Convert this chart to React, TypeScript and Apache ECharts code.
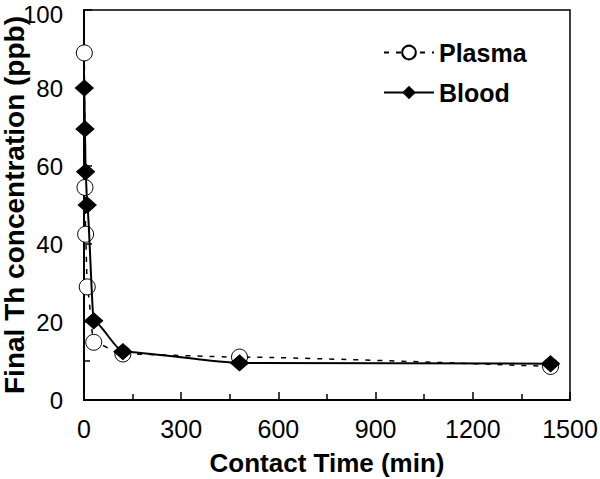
import React, { useEffect, useRef } from "react";
import * as echarts from "echarts";

const plasmaTime = [1, 3, 5, 10, 30, 120, 480, 1440];
const plasmaConc = [89, 54.5, 42.5, 29, 14.8, 11.8, 11, 8.6];
const bloodTime = [1, 3, 5, 10, 30, 120, 480, 1440];
const bloodConc = [80, 69.5, 58.5, 50, 20.3, 12.4, 9.5, 9.3];
const xTicks = [0, 300, 600, 900, 1200, 1500];
const yTicks = [0, 20, 40, 60, 80, 100];

export default function App() {
  const ref = useRef<HTMLDivElement>(null);
  useEffect(() => {
    if (!ref.current) return;
    const chart = echarts.init(ref.current, null, { renderer: "svg" });
    const font = "Liberation Sans, Arial, sans-serif";
    const yMax = yTicks[yTicks.length - 1];
    chart.setOption({
      animation: false,
      backgroundColor: "#fff",
      grid: {
        left: 84,
        right: 30,
        top: 10,
        bottom: 79,
        show: true,
        borderColor: "#000",
        borderWidth: 1.5,
        outerBoundsMode: "none",
        containLabel: false,
      },
      legend: {
        left: 378,
        top: 35,
        orient: "vertical",
        itemGap: 15,
        itemWidth: 50,
        itemHeight: 17,
        textStyle: { fontFamily: font, fontWeight: "bold", fontSize: 25, color: "#000" },
        data: ["Plasma", "Blood"],
      },
      xAxis: {
        type: "value",
        min: xTicks[0],
        max: xTicks[xTicks.length - 1],
        interval: 300,
        name: "Contact Time (min)",
        nameLocation: "middle",
        nameGap: 50,
        nameMoveOverlap: false,
        nameTextStyle: { fontFamily: font, fontWeight: "bold", fontSize: 26, color: "#000" },
        axisLine: { lineStyle: { color: "#000", width: 2 } },
        axisTick: { inside: true, length: 8, lineStyle: { color: "#000", width: 1.5 } },
        minorTick: { show: true, splitNumber: 2, length: 6, lineStyle: { color: "#000", width: 1.5 } },
        axisLabel: {
          fontFamily: font,
          fontSize: 25,
          color: "#000",
          margin: 16,
          formatter: (v: number) => String(v),
        },
        splitLine: { show: false },
      },
      yAxis: {
        type: "value",
        min: yTicks[0],
        max: yMax,
        interval: 20,
        name: "Final Th concentration (ppb)",
        nameLocation: "middle",
        nameGap: 56,
        nameMoveOverlap: false,
        nameTextStyle: { fontFamily: font, fontWeight: "bold", fontSize: 28, color: "#000", lineHeight: 28 },
        axisLine: { lineStyle: { color: "#000", width: 2 } },
        axisTick: { inside: true, length: 8, lineStyle: { color: "#000", width: 1.5 } },
        minorTick: { show: true, splitNumber: 2, length: 6, lineStyle: { color: "#000", width: 1.5 } },
        axisLabel: {
          fontFamily: font,
          fontSize: 24,
          color: "#000",
          margin: 21,
          lineHeight: 18,
          formatter: (v: number) => (v === yMax ? "{t|" + v + "}" : String(v)),
          rich: {
            t: { fontFamily: font, fontSize: 24, color: "#000", lineHeight: 18, padding: [8, 0, 0, 0] },
          },
        },
        splitLine: { show: false },
      },
      series: [
        {
          name: "Plasma",
          type: "line",
          data: plasmaTime.map((t, i) => [t, plasmaConc[i]]),
          symbol: "circle",
          symbolSize: 16,
          smooth: 0.2,
          smoothMonotone: "x",
          lineStyle: { color: "#000", width: 1.5, type: [5, 7] },
          itemStyle: { color: "#fff", borderColor: "#000", borderWidth: 1 },
          z: 2,
        },
        {
          name: "Blood",
          type: "line",
          data: bloodTime.map((t, i) => [t, bloodConc[i]]),
          symbol: "diamond",
          symbolSize: [18, 16],
          smooth: 0.2,
          smoothMonotone: "x",
          lineStyle: { color: "#000", width: 2, type: "solid" },
          itemStyle: { color: "#000", borderColor: "#000" },
          z: 3,
        },
      ],
    });
    return () => chart.dispose();
  }, []);
  return <div ref={ref} style={{ width: 600, height: 479, position: "absolute", left: 0, top: 0 }} />;
}
